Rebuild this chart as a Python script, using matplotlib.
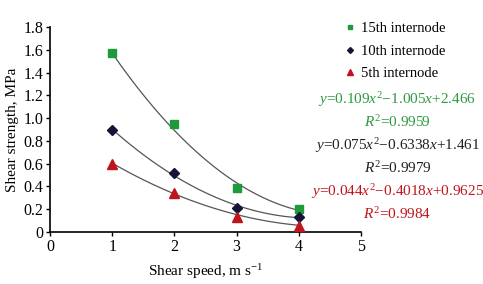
import numpy as np
import matplotlib.pyplot as plt

plt.rcParams['font.family'] = ['Liberation Serif', 'DejaVu Serif']
plt.rcParams['mathtext.fontset'] = 'custom'
plt.rcParams['mathtext.it'] = 'Liberation Serif:italic'
plt.rcParams['mathtext.rm'] = 'Liberation Serif'

# data
speed = [1, 2, 3, 4]
s15 = [1.57, 0.95, 0.39, 0.20]
s10 = [0.90, 0.52, 0.21, 0.13]
s5 = [0.60, 0.34, 0.13, 0.05]

labels = ['15th internode', '10th internode', '5th internode']
coefs = [(0.109, -1.005, 2.466), (0.075, -0.6338, 1.461), (0.044, -0.4018, 0.9625)]
eq_text = [r'$y$=0.109$x^2$$-$1.005$x$+2.466', r'$y$=0.075$x^2$$-$0.6338$x$+1.461',
           r'$y$=0.044$x^2$$-$0.4018$x$+0.9625']
r2_text = [r'$R^2$=0.9959', r'$R^2$=0.9979', r'$R^2$=0.9984']

colors = ['#1f9a3a', '#141438', '#c0141c']
eq_colors = ['#2e9a3e', '#222222', '#c0141c']
markers = ['s', 'D', '^']
msizes = [6, 5, 6.5]

fig = plt.figure(figsize=(4.83, 2.84), dpi=100)
ax = fig.add_axes([0.1035, 0.183, 0.644, 0.722])

xf = np.linspace(1, 4, 100)
for (a, b, c) in coefs:
    ax.plot(xf, a * xf**2 + b * xf + c, color='#555555', lw=0.9, zorder=2)

handles = []
for ys, col, m, ms, lab in zip([s15, s10, s5], colors, markers, msizes, labels):
    h, = ax.plot(speed, ys, linestyle='none', marker=m, color=col, ms=ms, label=lab, zorder=3)
    handles.append(h)

ax.set_xlim(0, 5)
ax.set_ylim(0, 1.8)
ax.set_xticks([0, 1, 2, 3, 4, 5])
ax.set_xticklabels(['0', '1', '2', '3', '4', '5'])
ax.set_yticks(np.arange(0, 1.81, 0.2))
ax.set_yticklabels(['0'] + ['%.1f' % v for v in np.arange(0.2, 1.81, 0.2)])
ax.spines['top'].set_visible(False)
ax.spines['right'].set_visible(False)
for s in ['left', 'bottom']:
    ax.spines[s].set_linewidth(1.2)
ax.tick_params(direction='out', length=3, width=1, labelsize=11.5, pad=2)
ax.set_xlabel(r'Shear speed, m s$^{-1}$', fontsize=11, labelpad=5)
ax.set_ylabel('Shear strength, MPa', fontsize=11, labelpad=3)

leg = fig.legend(handles=handles, loc='upper left', bbox_to_anchor=(0.69, 0.968),
                 frameon=False, fontsize=10.5, handlelength=0.5, handletextpad=0.5,
                 labelspacing=0.62, markerscale=0.6)

y0 = 100
for i in range(3):
    fig.text(0.823, 1 - (y0 + 46 * i) / 284, eq_text[i], color=eq_colors[i],
             fontsize=11, ha='center', va='center')
    fig.text(0.823, 1 - (y0 + 22 + 46 * i) / 284, r2_text[i], color=eq_colors[i],
             fontsize=11, ha='center', va='center')

fig.savefig('out.png', dpi=100)
